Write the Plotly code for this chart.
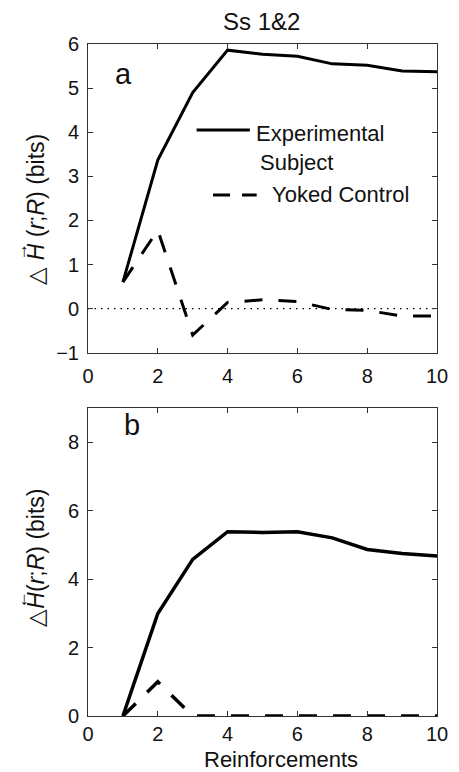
import plotly.graph_objects as go

x = [1, 2, 3, 4, 5, 6, 7, 8, 9, 10]
exp_a = [0.6, 3.37, 4.9, 5.86, 5.77, 5.72, 5.55, 5.52, 5.39, 5.37]
yoked_a = [0.6, 1.78, -0.6, 0.14, 0.2, 0.16, -0.02, -0.04, -0.17, -0.17]
exp_b = [0.0, 3.0, 4.58, 5.39, 5.37, 5.39, 5.21, 4.87, 4.75, 4.68]
yoked_b = [0.0, 1.0, 0.0, 0.0, 0.0, 0.0, 0.0, 0.0, 0.0, 0.0]
xticks = [0, 2, 4, 6, 8, 10]
yticks_a = [-1, 0, 1, 2, 3, 4, 5, 6]
yticks_b = [0, 2, 4, 6, 8]

FONT = "Liberation Sans, Arial, Helvetica, sans-serif"
DASH = "18px,16px"
TXT = "#111"

fig = go.Figure()
fig.add_trace(go.Scatter(x=x, y=exp_a, mode="lines", line=dict(color="black", width=3),
                         xaxis="x", yaxis="y", showlegend=False))
fig.add_trace(go.Scatter(x=x, y=yoked_a, mode="lines", line=dict(color="black", width=3, dash=DASH),
                         xaxis="x", yaxis="y", showlegend=False))
fig.add_trace(go.Scatter(x=x, y=exp_b, mode="lines", line=dict(color="black", width=3.5),
                         xaxis="x2", yaxis="y2", showlegend=False))
fig.add_trace(go.Scatter(x=x, y=yoked_b, mode="lines", line=dict(color="black", width=3.5, dash=DASH),
                         xaxis="x2", yaxis="y2", showlegend=False))

axis_common = dict(showline=True, linecolor="#333", linewidth=1, mirror="ticks", ticks="inside",
                   ticklen=5, tickcolor="#333", showgrid=False, zeroline=False,
                   ticklabeloverflow="allow",
                   tickfont=dict(family=FONT, size=20, color=TXT))

fig.update_layout(
    width=459, height=772,
    margin=dict(l=88, r=11, t=44, b=56),
    plot_bgcolor="white", paper_bgcolor="white",
    font=dict(family=FONT, color=TXT),
    xaxis=dict(domain=[0, 1], range=[0, 10], tickvals=xticks, anchor="y",
               ticklabelstandoff=5, **axis_common),
    yaxis=dict(domain=[0.5406, 1], range=[-1, 6], tickvals=yticks_a, anchor="x",
               ticklabelstandoff=4, **axis_common),
    xaxis2=dict(domain=[0, 1], range=[0, 10], tickvals=xticks, anchor="y2",
                ticklabelstandoff=0, **axis_common),
    yaxis2=dict(domain=[0, 0.4579], range=[0, 9.0], tickvals=yticks_b, anchor="x2",
                ticklabelstandoff=4, **axis_common),
)

# dotted zero line in panel a
fig.add_shape(type="line", xref="x", yref="y", x0=0, x1=10, y0=0, y1=0,
              line=dict(color="black", width=1.2, dash="1.5px,5px"), layer="below")

def px(xp):
    return (xp - 88) / 360

def py(yp):
    return (716 - yp) / 672

# manual legend in panel a
fig.add_shape(type="line", xref="paper", yref="paper", x0=px(200), x1=px(255),
              y0=py(130), y1=py(130), line=dict(color="black", width=3))
fig.add_shape(type="line", xref="paper", yref="paper", x0=px(217), x1=px(262),
              y0=py(195), y1=py(195), line=dict(color="black", width=3, dash="17px,12px"))

annots = [
    dict(text="Ss 1&2", x=px(267), y=py(21), size=24, xa="center"),
    dict(text="a", x=px(125), y=py(74), size=29, xa="center"),
    dict(text="b", x=px(133), y=py(425), size=29, xa="center"),
    dict(text="Experimental", x=px(259), y=py(133), size=22, xa="left"),
    dict(text="Subject", x=px(263), y=py(162), size=22, xa="left"),
    dict(text="Yoked Control", x=px(276), y=py(194), size=22, xa="left"),
    dict(text="Reinforcements", x=px(287), y=py(759), size=22, xa="center"),
]
for a in annots:
    fig.add_annotation(text=a["text"], x=a["x"], y=a["y"], xref="paper", yref="paper",
                       showarrow=False, xanchor=a["xa"], yanchor="middle",
                       font=dict(family=FONT, size=a["size"], color=TXT))

# y-axis titles (rotated) with arrows over H
fig.add_annotation(text="△ <i>H</i> (<i>r</i>;<i>R</i>) (bits)", x=px(34), y=py(209),
                   xref="paper", yref="paper", showarrow=False, textangle=-90,
                   xanchor="center", yanchor="middle", font=dict(family=FONT, size=23, color=TXT))
fig.add_annotation(text="→", x=px(19), y=py(252),
                   xref="paper", yref="paper", showarrow=False, textangle=-90,
                   xanchor="center", yanchor="middle", font=dict(family=FONT, size=18, color=TXT))
fig.add_annotation(text="△<i>H</i>(<i>r</i>;<i>R</i>) (bits)", x=px(34), y=py(558),
                   xref="paper", yref="paper", showarrow=False, textangle=-90,
                   xanchor="center", yanchor="middle", font=dict(family=FONT, size=23, color=TXT))
fig.add_annotation(text="←", x=px(19), y=py(600),
                   xref="paper", yref="paper", showarrow=False, textangle=-90,
                   xanchor="center", yanchor="middle", font=dict(family=FONT, size=18, color=TXT))

fig.write_html("out.html")
